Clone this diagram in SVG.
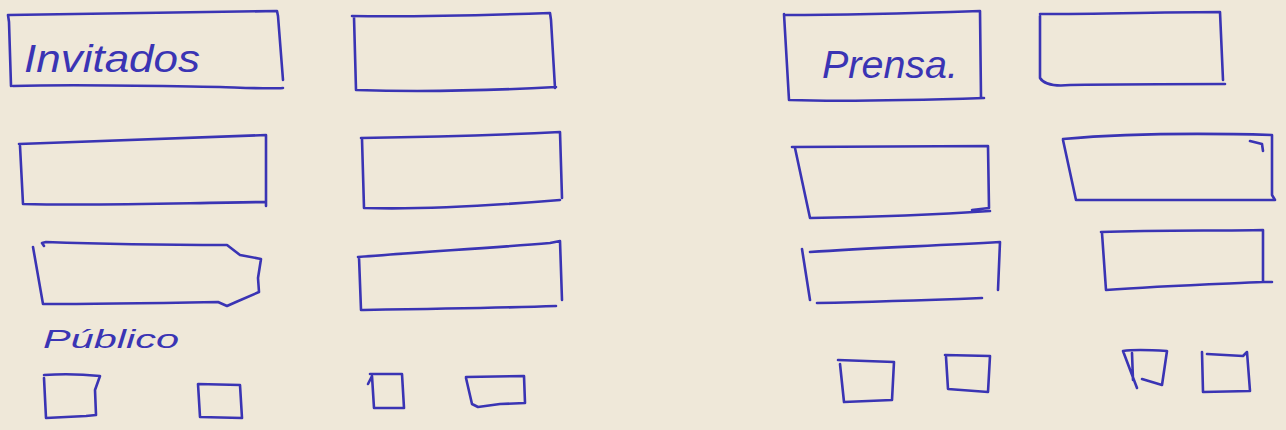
<svg xmlns="http://www.w3.org/2000/svg" width="1286" height="430" viewBox="0 0 1286 430">
<style>
.ink{fill:none;stroke:#3a34b4;stroke-width:2.6;stroke-linecap:round;stroke-linejoin:round}
.lbl{fill:#3a34b4;font-family:"Liberation Sans","DejaVu Sans",sans-serif;font-style:italic;font-weight:normal}
</style>
<rect width="1286" height="430" fill="#efe8d9"/>
<!-- left block -->
<g id="invitados">
<path class="ink" d="M8,15 L9,22 L11,86 M9,15 C90,14 180,13 277,11 L278,16 L283,80 M13,86 C80,84 150,86 220,87 C250,88 270,89 283,88"/>
<text class="lbl" x="24" y="72" font-size="38" textLength="176" lengthAdjust="spacingAndGlyphs">Invitados</text>
</g>
<g id="mesa-a2">
<path class="ink" d="M352,16 C420,17 490,15 550,13 L551,20 L555,88 M354,17 L356,90 C420,92 500,90 556,87"/>
</g>
<g id="mesa-a3">
<path class="ink" d="M19,144 C100,141 180,138 266,135 L266,206 M20,146 L23,204 C100,206 180,203 266,202"/>
</g>
<g id="mesa-a4">
<path class="ink" d="M361,138 C430,137 500,135 560,132 L562,198 M362,139 L364,208 C430,210 500,205 560,200"/>
</g>
<g id="mesa-a5">
<path class="ink" d="M44,246 L42,243 L46,242 C100,244 170,245 227,245 L240,255 L261,259 L258,278 L259,292 L236,302 L227,306 L218,302 C160,303 100,304 43,304 L33,247"/>
</g>
<g id="mesa-a6">
<path class="ink" d="M358,257 C420,252 490,248 550,243 L560,241 L562,300 M359,257 L361,310 C430,309 500,308 556,306"/>
</g>
<text id="publico" class="lbl" x="43" y="348" font-size="26" textLength="136" lengthAdjust="spacingAndGlyphs">Público</text>
<g id="silla-a1"><path class="ink" d="M44,375 C60,374 80,374 100,376 L95,390 L96,415 L86,416 L46,418 L44,378"/></g>
<g id="silla-a2"><path class="ink" d="M198,384 L240,385 L242,418 L200,417 Z"/></g>
<g id="silla-a3"><path class="ink" d="M370,374 L402,374 L404,408 L374,408 L372,376 L368,384"/></g>
<g id="silla-a4"><path class="ink" d="M466,377 L524,376 L525,403 L500,404 L478,407 L472,404 L466,378"/></g>
<!-- right block -->
<g id="prensa">
<path class="ink" d="M784,14 L789,100 M785,15 C850,15 920,13 980,11 L981,98 M790,100 C850,102 920,100 984,98"/>
<text class="lbl" x="822" y="78" font-size="38" textLength="136" lengthAdjust="spacingAndGlyphs">Prensa.</text>
</g>
<g id="mesa-b2">
<path class="ink" d="M1040,14 C1100,14 1170,12 1220,12 L1223,80 M1040,16 L1040,78 C1045,86 1060,86 1070,85 C1130,84 1180,84 1225,84"/>
</g>
<g id="mesa-b3">
<path class="ink" d="M792,147 C860,147 920,146 988,146 L989,208 L972,210 M795,148 L810,218 C870,217 930,215 990,211"/>
</g>
<g id="mesa-b4">
<path class="ink" d="M1063,139 C1120,134 1200,133 1272,135 L1272,195 L1275,200 M1063,140 L1076,200 C1140,200 1210,200 1275,200 M1250,141 L1262,144 L1263,151"/>
</g>
<g id="mesa-b5">
<path class="ink" d="M810,252 C870,248 930,246 1000,242 L998,290 M802,249 L810,300 M817,303 C870,302 930,300 982,298"/>
</g>
<g id="mesa-b6">
<path class="ink" d="M1101,232 C1160,230 1220,231 1263,230 L1263,282 L1272,282 M1102,233 L1106,290 C1160,286 1220,284 1263,282"/>
</g>
<g id="silla-b1"><path class="ink" d="M838,360 L894,362 L892,400 L844,402 L840,364"/></g>
<g id="silla-b2"><path class="ink" d="M945,355 L990,356 L988,392 L948,389 L946,357"/></g>
<g id="silla-b3"><path class="ink" d="M1137,388 L1123,351 C1135,349 1152,350 1167,351 L1162,385 L1142,379 M1132,353 L1133,380"/></g>
<g id="silla-b4"><path class="ink" d="M1202,352 L1203,392 L1250,391 L1247,352 L1243,356 L1207,354"/></g>
</svg>
